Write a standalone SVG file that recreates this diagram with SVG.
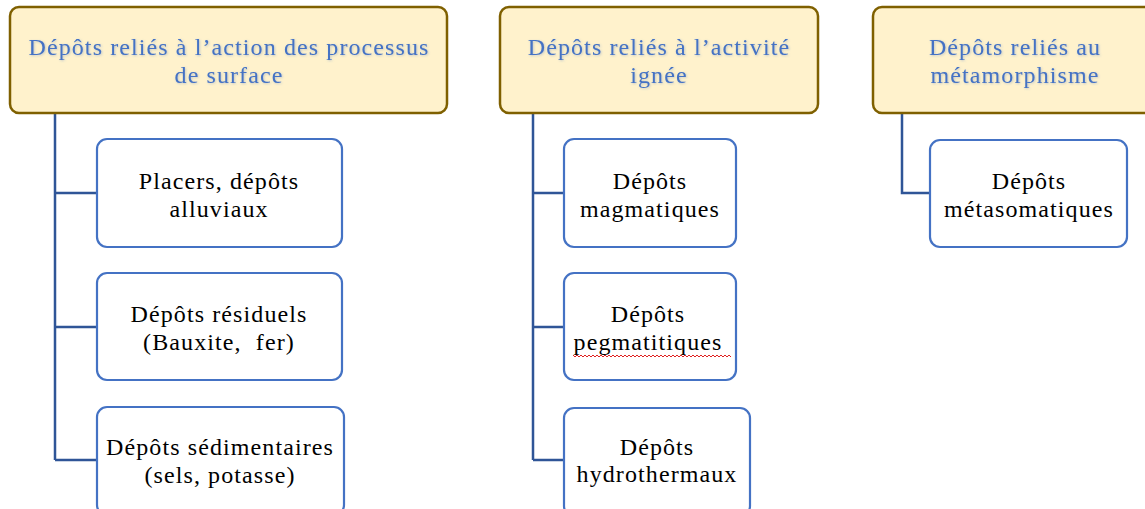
<svg xmlns="http://www.w3.org/2000/svg" width="1145" height="509" viewBox="0 0 1145 509">
  <defs>
    <filter id="soft" x="-5%" y="-20%" width="110%" height="140%">
      <feDropShadow dx="0.8" dy="0.8" stdDeviation="0.8" flood-color="#4472c4" flood-opacity="0.35"/>
    </filter>
  </defs>
  <style>
    text { font-family: 'Liberation Serif', 'Times New Roman', serif; font-size: 24px; letter-spacing: 1.1px; text-anchor: middle; }
    .hdr rect { fill: #fff2cc; stroke: #7f6000; stroke-width: 2.5; }
    .hdr text { fill: #4472c4; filter: url(#soft); }
    .leaf rect { fill: #ffffff; stroke: #4472c4; stroke-width: 2.2; }
    .leaf text { fill: #000000; }
    .conn path { fill: none; stroke: #2f5597; stroke-width: 2.5; }
    .spell { fill: none; stroke: #e02020; stroke-width: 1; }
  </style>

  <!-- connectors -->
  <g id="connectors" class="conn">
    <path d="M55 113 V460 M55 193 H97 M55 327 H97 M55 460 H97"/>
    <path d="M533 113 V460 M533 193 H564 M533 327 H564 M533 460 H564"/>
    <path d="M902 113 V193 H930"/>
  </g>

  <!-- column 1 -->
  <g id="hdr-surface" class="hdr">
    <rect x="10" y="7" width="437" height="106" rx="9"/>
    <text x="229" y="55">Dépôts reliés à l’action des processus</text>
    <text x="229" y="83">de surface</text>
  </g>
  <g id="leaf-placers" class="leaf">
    <rect x="97" y="139" width="245" height="108" rx="10"/>
    <text x="219" y="189">Placers, dépôts</text>
    <text x="219" y="217">alluviaux</text>
  </g>
  <g id="leaf-residuels" class="leaf">
    <rect x="97" y="273" width="245" height="107" rx="10"/>
    <text x="219" y="322">Dépôts résiduels</text>
    <text x="219" y="350" xml:space="preserve">(Bauxite,  fer)</text>
  </g>
  <g id="leaf-sedimentaires" class="leaf">
    <rect x="97" y="407" width="247" height="108" rx="10"/>
    <text x="220" y="455">Dépôts sédimentaires</text>
    <text x="220" y="483">(sels, potasse)</text>
  </g>

  <!-- column 2 -->
  <g id="hdr-ignee" class="hdr">
    <rect x="500" y="7" width="318" height="106" rx="9"/>
    <text x="659" y="55">Dépôts reliés à l’activité</text>
    <text x="659" y="83">ignée</text>
  </g>
  <g id="leaf-magmatiques" class="leaf">
    <rect x="564" y="139" width="172" height="108" rx="10"/>
    <text x="650" y="189">Dépôts</text>
    <text x="650" y="217">magmatiques</text>
  </g>
  <g id="leaf-pegmatitiques" class="leaf">
    <rect x="564" y="273" width="172" height="107" rx="10"/>
    <text x="648" y="322">Dépôts</text>
    <text x="648" y="350">pegmatitiques</text>
    <path class="spell" d="M573 355 l2 2 l2 -2 l2 2 l2 -2 l2 2 l2 -2 l2 2 l2 -2 l2 2 l2 -2 l2 2 l2 -2 l2 2 l2 -2 l2 2 l2 -2 l2 2 l2 -2 l2 2 l2 -2 l2 2 l2 -2 l2 2 l2 -2 l2 2 l2 -2 l2 2 l2 -2 l2 2 l2 -2 l2 2 l2 -2 l2 2 l2 -2 l2 2 l2 -2 l2 2 l2 -2 l2 2 l2 -2 l2 2 l2 -2 l2 2 l2 -2 l2 2 l2 -2 l2 2 l2 -2 l2 2 l2 -2 l2 2 l2 -2 l2 2 l2 -2 l2 2 l2 -2 l2 2 l2 -2 l2 2 l2 -2 l2 2 l2 -2 l2 2 l2 -2 l2 2 l2 -2 l2 2 l2 -2 l2 2 l2 -2 l2 2 l2 -2 l2 2 l2 -2 l2 2 l2 -2 l2 2 l2 -2 l2 2"/>
  </g>
  <g id="leaf-hydrothermaux" class="leaf">
    <rect x="564" y="408" width="186" height="108" rx="10"/>
    <text x="657" y="455">Dépôts</text>
    <text x="657" y="482">hydrothermaux</text>
  </g>

  <!-- column 3 -->
  <g id="hdr-metamorphisme" class="hdr">
    <rect x="873" y="7" width="290" height="106" rx="9"/>
    <text x="1015" y="55">Dépôts reliés au</text>
    <text x="1015" y="83">métamorphisme</text>
  </g>
  <g id="leaf-metasomatiques" class="leaf">
    <rect x="930" y="140" width="197" height="107" rx="10"/>
    <text x="1029" y="189">Dépôts</text>
    <text x="1029" y="217">métasomatiques</text>
  </g>
</svg>
